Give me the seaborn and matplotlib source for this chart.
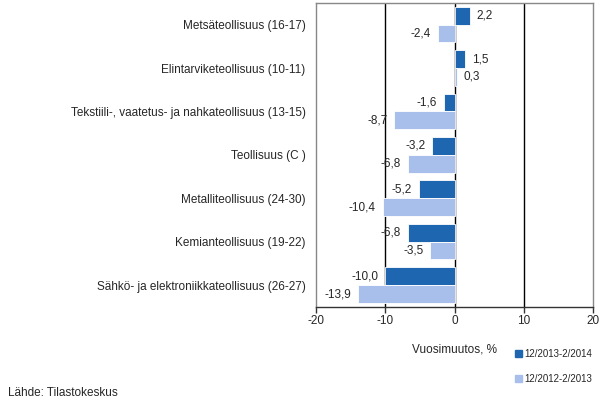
import matplotlib
matplotlib.use("Agg")
import matplotlib.pyplot as plt
import seaborn as sns
import pandas as pd

# --- data ---
categories = [
    "Metsäteollisuus (16-17)",
    "Elintarviketeollisuus (10-11)",
    "Tekstiili-, vaatetus- ja nahkateollisuus (13-15)",
    "Teollisuus (C )",
    "Metalliteollisuus (24-30)",
    "Kemianteollisuus (19-22)",
    "Sähkö- ja elektroniikkateollisuus (26-27)",
]
series_names = ["12/2013-2/2014", "12/2012-2/2013"]
values_2014 = [2.2, 1.5, -1.6, -3.2, -5.2, -6.8, -10.0]
values_2013 = [-2.4, 0.3, -8.7, -6.8, -10.4, -3.5, -13.9]
x_ticks = [-20, -10, 0, 10, 20]

colors = ["#1F66B0", "#A8BFEB"]

df = pd.DataFrame({
    "Toimiala": categories * 2,
    "Kausi": [series_names[0]] * len(categories) + [series_names[1]] * len(categories),
    "Muutos": values_2014 + values_2013,
})

sns.set_style("white")
plt.rcParams["font.family"] = ["Liberation Sans", "DejaVu Sans"]
plt.rcParams["font.size"] = 8.5

fig = plt.figure(figsize=(6.09, 4.18), dpi=100)
ax = fig.add_axes([0.519, 0.266, 0.455, 0.727])

sns.barplot(data=df, x="Muutos", y="Toimiala", hue="Kausi", hue_order=series_names,
            order=categories, palette=colors, orient="h", width=0.82,
            saturation=1, ax=ax, legend=False, zorder=3,
            edgecolor="white", linewidth=0.6)

# value labels with decimal comma, pushed a bit away from the bar ends
for container in ax.containers:
    ax.bar_label(container, labels=[f"{v.get_width():.1f}".replace(".", ",")
                                    for v in container],
                 padding=5, fontsize=8.5, zorder=4)

ax.set_xlim(-20, 20)
ax.set_xticks(x_ticks)
ax.set_xticklabels([str(t) for t in x_ticks])
ax.set_ylim(6.5, -0.5)
for t in [-10, 0, 10]:
    ax.axvline(t, color="black", lw=1, zorder=2)

ax.tick_params(axis="x", bottom=True, length=4, width=1, color="#333333", pad=2, labelsize=8.5)
ax.tick_params(axis="y", left=False, pad=4, labelsize=8.5)
for s in ax.spines.values():
    s.set_color("#888888")
    s.set_linewidth(1)
ax.spines["bottom"].set_color("#333333")

ax.set_ylabel("")
ax.set_xlabel("Vuosimuutos, %", fontsize=8.5, labelpad=12)

handles = [plt.Rectangle((0, 0), 1, 1, color=c) for c in colors]
fig.legend(handles, series_names, loc="upper left", bbox_to_anchor=(0.84, 0.175),
           frameon=False, fontsize=7, handlelength=0.7, handleheight=0.7,
           handletextpad=0.2, labelspacing=1.6, borderaxespad=0)

fig.text(0.013, 0.06, "Lähde: Tilastokeskus", fontsize=8.5, va="center")

fig.savefig("out.png", dpi=100)
